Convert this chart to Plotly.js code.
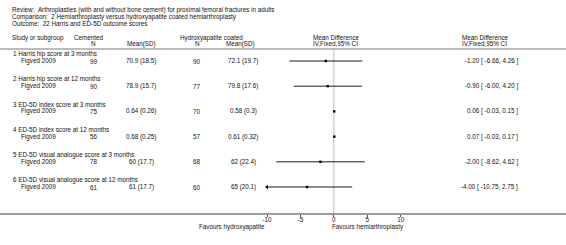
<!DOCTYPE html>
<html>
<head>
<meta charset="utf-8">
<script src="https://cdn.plot.ly/plotly-3.0.1.min.js"></script>
<style>html,body{margin:0;padding:0;background:#fff;}#chart{width:566px;height:245px;}</style>
</head>
<body>
<div id="chart"></div>
<script>
// ---- data ----
const headerLines = [
  "Review:\u00a0\u00a0Arthroplasties (with and without bone cement) for proximal femoral fractures in adults",
  "Comparison:\u00a0\u00a02 Hemiarthroplasty versus hydroxyapatite coated hemiarthroplasty",
  "Outcome:\u00a0\u00a022 Harris and ED-5D outcome scores"
];
const groups = [
  "1 Harris hip score at 3 months",
  "2 Harris hip score at 12 months",
  "3 ED-5D index score at 3 months",
  "4 ED-5D index score at 12 months",
  "5 ED-5D visual analogue score at 3 months",
  "6 ED-5D visual analogue score at 12 months"
];
const studies = ["Figved 2009","Figved 2009","Figved 2009","Figved 2009","Figved 2009","Figved 2009"];
const cemN = [99, 90, 75, 56, 78, 61];
const cemMeanSD = ["70.9 (18.5)", "78.9 (15.7)", "0.64 (0.26)", "0.68 (0.25)", "60 (17.7)", "61 (17.7)"];
const haN = [90, 77, 70, 57, 68, 60];
const haMeanSD = ["72.1 (19.7)", "79.8 (17.6)", "0.58 (0.3)", "0.61 (0.32)", "62 (22.4)", "65 (20.1)"];
const md = [-1.20, -0.90, 0.06, 0.07, -2.00, -4.00];
const ciLo = [-6.66, -6.00, -0.03, -0.03, -8.62, -10.75];
const ciHi = [4.26, 4.20, 0.15, 0.17, 4.62, 2.75];
const tickVals = [-10, -5, 0, 5, 10];
const tickText = ["-10", "-5", "0", "5", "10"];
const favLeft = "Favours hydroxyapatite";
const favRight = "Favours hemiarthroplasty";

// ---- layout constants ----
const W = 566, H = 245;
const FONT = "Liberation Sans, Arial, sans-serif";
const FS = 6.3;
const axMin = tickVals[0], axMax = tickVals[tickVals.length - 1];
const plotL = 267, plotR = 400.7;
const rowY0 = 61, rowStep = 25.2, labelOff = -6.8;
const axisY = 214;
const headLineY = 49;

const ann = [];
function txt(text, px, py, anchor, extra) {
  ann.push(Object.assign({
    text: text, x: px / W, xref: 'paper', y: py, yref: 'y',
    xanchor: anchor || 'left', yanchor: 'middle', showarrow: false,
    font: {family: FONT, size: FS, color: '#111'}
  }, extra || {}));
}

headerLines.forEach((t, i) => txt(t, 10, 10 + i * 6.5, 'left'));
txt("Study or subgroup", 10, 37.5, 'left');
txt("Cemented", 89, 37.5, 'center');
txt("N", 94, 43.5, 'center');
txt("Mean(SD)", 141, 43.5, 'center');
txt("Hydroxyapatite coated", 211, 37.5, 'center');
txt("N", 197, 43.5, 'center');
txt("Mean(SD)", 241, 43.5, 'center');
txt("Mean Difference", 336, 37.5, 'center');
txt("IV,Fixed,95% CI", 335, 43.5, 'center');
txt("Mean Difference", 485, 37.5, 'center');
txt("IV,Fixed,95% CI", 484, 43.5, 'center');

const rowY = groups.map((g, i) => rowY0 + i * rowStep);
groups.forEach((g, i) => {
  const y = rowY[i];
  txt(g, 11, y + labelOff, 'left');
  txt(studies[i], 19, y, 'left');
  txt(String(cemN[i]), 94, y, 'center');
  txt(cemMeanSD[i], 141, y, 'center');
  txt(String(haN[i]), 197, y, 'center');
  txt(haMeanSD[i], 243, y, 'center');
  txt(md[i].toFixed(2) + " [ " + ciLo[i].toFixed(2) + ", " + ciHi[i].toFixed(2) + " ]", 520, y, 'right');
});

// favours labels
ann.push({text: favLeft, x: axMin, xref: 'x', y: 227, yref: 'y', xanchor: 'right', yanchor: 'middle',
  showarrow: false, font: {family: FONT, size: FS, color: '#111'}});
ann.push({text: favRight, x: 0, xref: 'x', xshift: -4, y: 227, yref: 'y', xanchor: 'left', yanchor: 'middle',
  showarrow: false, font: {family: FONT, size: FS, color: '#111'}});

// ---- traces ----
const traces = [];
groups.forEach((g, i) => {
  const lo = Math.max(ciLo[i], axMin), hi = Math.min(ciHi[i], axMax);
  traces.push({x: [lo, hi], y: [rowY[i], rowY[i]], mode: 'lines', type: 'scatter',
    line: {color: '#000', width: 0.9}, hoverinfo: 'skip', cliponaxis: false, showlegend: false});
  if (ciLo[i] < axMin) {
    traces.push({x: [axMin], y: [rowY[i]], mode: 'markers', type: 'scatter', cliponaxis: false,
      marker: {symbol: 'triangle-left', size: 4, color: '#000'}, showlegend: false});
  }
});
traces.push({x: md, y: rowY, mode: 'markers', type: 'scatter', cliponaxis: false, showlegend: false,
  marker: {symbol: 'square', size: 2.4, color: '#000', line: {width: 0}}});

const shapes = [
  {type: 'line', xref: 'paper', yref: 'y', x0: 0, x1: 1, y0: headLineY, y1: headLineY, line: {color: '#7a7a7a', width: 1.2}},
  {type: 'line', xref: 'paper', yref: 'y', x0: 0, x1: 1, y0: axisY, y1: axisY, line: {color: '#222', width: 0.9}},
  {type: 'line', xref: 'x', yref: 'y', x0: 0, x1: 0, y0: headLineY, y1: axisY, line: {color: '#bdbdbd', width: 1}, layer: 'below'}
];

const layout = {
  width: W, height: H,
  margin: {l: 0, r: 0, t: 0, b: 0, pad: 0},
  paper_bgcolor: '#fff', plot_bgcolor: 'rgba(0,0,0,0)',
  showlegend: false,
  xaxis: {
    domain: [plotL / W, plotR / W], range: [axMin, axMax],
    anchor: 'free', position: (H - axisY) / H,
    showgrid: false, zeroline: false, showline: false,
    tickmode: 'array', tickvals: tickVals, ticktext: tickText,
    ticks: 'outside', ticklen: 2, tickwidth: 0.8, tickcolor: '#222',
    ticklabelstandoff: -3,
    tickfont: {family: FONT, size: FS, color: '#111'}, fixedrange: true
  },
  yaxis: {
    domain: [0, 1], range: [H, 0], visible: false, fixedrange: true
  },
  annotations: ann,
  shapes: shapes
};

Plotly.newPlot('chart', traces, layout, {staticPlot: true, displayModeBar: false});
</script>
</body>
</html>
